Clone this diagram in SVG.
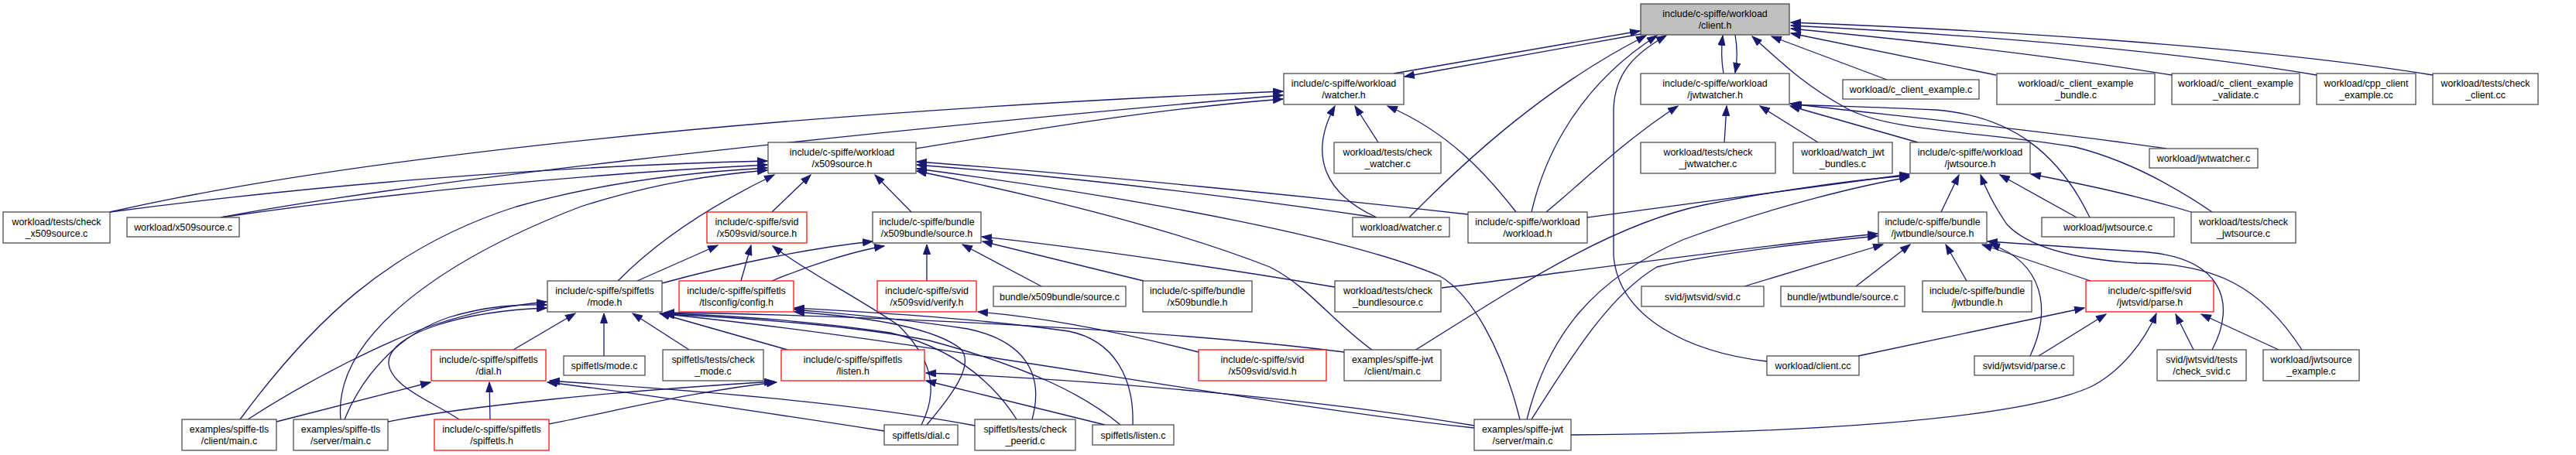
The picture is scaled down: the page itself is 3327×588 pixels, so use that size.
<svg xmlns="http://www.w3.org/2000/svg" width="3327" height="588" viewBox="0 0 3327 588">
<defs>
<marker id="a" markerUnits="userSpaceOnUse" markerWidth="14" markerHeight="10" refX="13" refY="5" orient="auto"><path d="M0.5,0.5 L13,5 L0.5,9.5 z" fill="#191970" stroke="#191970" stroke-width="1"/></marker>
<style>
.n rect{fill:#fff;stroke:#404040;stroke-width:1.2}
.r rect{stroke:#ff0000}
.g rect{fill:#bfbfbf}
text{font-family:"Liberation Sans",Arial,sans-serif;font-size:12.4px;text-anchor:middle;fill:#000}
#edges path{fill:none;stroke:#191970;stroke-width:1.3;marker-end:url(#a)}
</style>
</defs>
<rect width="3327" height="588" fill="#fff"/>
<g id="edges">
<path d="M2437,103 L2288,47"/>
<path d="M2578,97 L2313,43"/>
<path d="M2805,97 C2650,72 2450,50 2313,37"/>
<path d="M2992,97 C2800,65 2550,45 2313,33"/>
<path d="M3142,97 C2900,58 2550,38 2313,29"/>
<path d="M1800,95 L2118,40"/>
<path d="M2119,44 L1814,99"/>
<path d="M2226,95 C2223,78 2223,62 2225,46"/>
<path d="M2241,45 C2244,62 2244,78 2241,94"/>
<path d="M1820,281 C1900,200 2000,110 2126,46"/>
<path d="M1978,274 C1995,200 2040,110 2140,46"/>
<path d="M2282,467 C2180,455 2090,410 2084,330 L2084,140 C2086,95 2110,70 2152,46"/>
<path d="M2857,274 C2800,235 2740,205 2680,190 C2560,170 2440,170 2385,140 C2330,110 2300,80 2263,47"/>
<path d="M1780,184 L1750,137"/>
<path d="M1778,281 C1710,250 1690,200 1724,137"/>
<path d="M1958,274 C1920,225 1870,170 1792,137"/>
<path d="M1183,192 C1350,165 1500,140 1657,128"/>
<path d="M142,274 C400,215 900,150 1657,118"/>
<path d="M285,281 C500,240 1000,180 1657,123"/>
<path d="M142,274 C400,240 700,215 991,208"/>
<path d="M285,281 C500,250 750,225 991,213"/>
<path d="M310,542 C400,420 500,320 667,267 C780,235 900,222 991,217"/>
<path d="M440,542 C430,440 560,340 750,267 C850,235 930,225 991,220"/>
<path d="M798,363 C860,300 940,255 1000,226"/>
<path d="M997,274 L1047,226"/>
<path d="M1177,274 L1130,226"/>
<path d="M1777,281 C1600,255 1400,230 1184,213"/>
<path d="M1896,277 C1700,255 1400,225 1184,209"/>
<path d="M1963,542 C1940,450 1900,380 1860,357 C1750,310 1500,260 1184,218"/>
<path d="M1773,453 C1720,415 1690,370 1640,345 C1500,290 1300,245 1184,221"/>
<path d="M2227,184 L2230,137"/>
<path d="M2348,184 L2273,137"/>
<path d="M2477,184 L2312,137"/>
<path d="M1997,274 C2050,230 2100,180 2167,137"/>
<path d="M2798,192 C2650,170 2450,150 2312,134"/>
<path d="M2699,281 C2660,200 2600,150 2500,142 C2420,138 2360,137 2314,135"/>
<path d="M2507,274 L2530,226"/>
<path d="M2682,281 L2583,226"/>
<path d="M2830,274 C2760,253 2700,240 2623,225"/>
<path d="M2973,452 C2920,370 2860,340 2760,340 C2680,335 2620,320 2592,290 C2575,265 2565,245 2558,226"/>
<path d="M2050,281 C2200,262 2350,240 2466,225"/>
<path d="M1827,453 C1960,370 2080,290 2200,265 C2300,245 2400,232 2466,227"/>
<path d="M1972,542 C2000,430 2060,360 2173,310 C2280,270 2400,240 2466,229"/>
<path d="M2253,370 L2432,316"/>
<path d="M2397,370 L2467,316"/>
<path d="M2540,363 L2513,316"/>
<path d="M2700,363 L2560,316"/>
<path d="M2622,460 C2650,400 2640,340 2570,315"/>
<path d="M2857,452 C2890,390 2870,330 2760,325 C2680,320 2620,316 2567,312"/>
<path d="M1862,372 C2000,355 2250,320 2425,302"/>
<path d="M1978,542 C2030,460 2080,380 2140,345 C2200,330 2320,315 2425,305"/>
<path d="M2400,460 L2692,398"/>
<path d="M2633,460 L2720,406"/>
<path d="M2833,452 L2810,406"/>
<path d="M2943,452 L2843,406"/>
<path d="M2029,562 C2300,560 2600,545 2700,500 C2740,480 2770,440 2785,405"/>
<path d="M1197,363 L1197,316"/>
<path d="M1345,370 L1243,316"/>
<path d="M1477,363 L1269,312"/>
<path d="M1724,371 C1600,350 1400,320 1268,306"/>
<path d="M997,363 C1040,345 1100,325 1142,318"/>
<path d="M855,366 C950,340 1050,320 1127,312"/>
<path d="M663,452 L743,405"/>
<path d="M780,460 L780,405"/>
<path d="M890,452 L817,405"/>
<path d="M1017,452 L852,405"/>
<path d="M320,542 C400,490 500,440 560,420 C620,400 660,395 706,390"/>
<path d="M445,542 C470,480 520,430 580,410 C630,395 670,393 706,394"/>
<path d="M593,542 C560,520 505,500 502,470 C500,430 600,402 706,398"/>
<path d="M1313,542 C1280,490 1230,450 1150,430 C1050,415 950,408 858,405"/>
<path d="M1447,549 C1400,510 1330,475 1200,440 C1100,420 950,410 858,406"/>
<path d="M1904,553 C1600,520 1200,440 858,406"/>
<path d="M1736,455 C1500,425 1100,407 858,404"/>
<path d="M957,363 L970,317"/>
<path d="M1197,549 C1230,510 1260,470 1240,450 C1200,420 1100,408 1026,403"/>
<path d="M1333,542 C1350,480 1320,440 1250,425 C1150,410 1080,405 1026,400"/>
<path d="M1463,549 C1465,490 1440,440 1380,428 C1250,410 1100,402 1026,398"/>
<path d="M823,363 L927,317"/>
<path d="M1190,549 C1215,500 1200,460 1160,420 C1100,380 1040,350 998,318"/>
<path d="M1548,455 C1450,430 1350,410 1263,403"/>
<path d="M357,545 L556,494"/>
<path d="M633,542 L632,494"/>
<path d="M1142,557 C1000,535 800,505 707,494"/>
<path d="M1259,550 C1100,520 900,505 710,492"/>
<path d="M501,545 C600,525 800,505 1000,493"/>
<path d="M709,548 C800,530 900,505 1003,494"/>
<path d="M1427,549 L1196,492"/>
<path d="M1904,550 C1700,515 1400,490 1196,482"/>
</g>
<g id="n0" class="n g"><rect x="2119" y="5" width="192" height="40"/><text x="2215" y="21.5">include/c-spiffe/workload</text><text x="2215" y="36.5">/client.h</text></g>
<g id="n1" class="n"><rect x="1658" y="95" width="155" height="40"/><text x="1735.5" y="111.5">include/c-spiffe/workload</text><text x="1735.5" y="126.5">/watcher.h</text></g>
<g id="n2" class="n"><rect x="2119" y="95" width="192" height="40"/><text x="2215" y="111.5">include/c-spiffe/workload</text><text x="2215" y="126.5">/jwtwatcher.h</text></g>
<g id="n3" class="n"><rect x="2380" y="103" width="176" height="25"/><text x="2468" y="120">workload/c_client_example.c</text></g>
<g id="n4" class="n"><rect x="2579" y="95" width="204" height="40"/><text x="2681" y="111.5">workload/c_client_example</text><text x="2681" y="126.5">_bundle.c</text></g>
<g id="n5" class="n"><rect x="2805" y="95" width="165" height="40"/><text x="2887.5" y="111.5">workload/c_client_example</text><text x="2887.5" y="126.5">_validate.c</text></g>
<g id="n6" class="n"><rect x="2992" y="95" width="128" height="40"/><text x="3056" y="111.5">workload/cpp_client</text><text x="3056" y="126.5">_example.cc</text></g>
<g id="n7" class="n"><rect x="3142" y="95" width="136" height="40"/><text x="3210" y="111.5">workload/tests/check</text><text x="3210" y="126.5">_client.cc</text></g>
<g id="n8" class="n"><rect x="992" y="184" width="191" height="40"/><text x="1087.5" y="200.5">include/c-spiffe/workload</text><text x="1087.5" y="215.5">/x509source.h</text></g>
<g id="n9" class="n"><rect x="1723" y="184" width="138" height="40"/><text x="1792" y="200.5">workload/tests/check</text><text x="1792" y="215.5">_watcher.c</text></g>
<g id="n10" class="n"><rect x="2119" y="184" width="174" height="40"/><text x="2206" y="200.5">workload/tests/check</text><text x="2206" y="215.5">_jwtwatcher.c</text></g>
<g id="n11" class="n"><rect x="2316" y="184" width="128" height="40"/><text x="2380" y="200.5">workload/watch_jwt</text><text x="2380" y="215.5">_bundles.c</text></g>
<g id="n12" class="n"><rect x="2467" y="184" width="155" height="40"/><text x="2544.5" y="200.5">include/c-spiffe/workload</text><text x="2544.5" y="215.5">/jwtsource.h</text></g>
<g id="n13" class="n"><rect x="2776" y="192" width="140" height="25"/><text x="2846" y="209">workload/jwtwatcher.c</text></g>
<g id="n14" class="n"><rect x="4" y="274" width="138" height="40"/><text x="73" y="290.5">workload/tests/check</text><text x="73" y="305.5">_x509source.c</text></g>
<g id="n15" class="n"><rect x="164" y="281" width="145" height="25"/><text x="236.5" y="298">workload/x509source.c</text></g>
<g id="n16" class="n r"><rect x="913" y="274" width="129" height="40"/><text x="977.5" y="290.5">include/c-spiffe/svid</text><text x="977.5" y="305.5">/x509svid/source.h</text></g>
<g id="n17" class="n"><rect x="1127" y="274" width="140" height="40"/><text x="1197" y="290.5">include/c-spiffe/bundle</text><text x="1197" y="305.5">/x509bundle/source.h</text></g>
<g id="n18" class="n"><rect x="1747" y="281" width="125" height="25"/><text x="1809.5" y="298">workload/watcher.c</text></g>
<g id="n19" class="n"><rect x="1896" y="274" width="154" height="40"/><text x="1973" y="290.5">include/c-spiffe/workload</text><text x="1973" y="305.5">/workload.h</text></g>
<g id="n20" class="n"><rect x="2426" y="274" width="140" height="40"/><text x="2496" y="290.5">include/c-spiffe/bundle</text><text x="2496" y="305.5">/jwtbundle/source.h</text></g>
<g id="n21" class="n"><rect x="2637" y="281" width="171" height="25"/><text x="2722.5" y="298">workload/jwtsource.c</text></g>
<g id="n22" class="n"><rect x="2830" y="274" width="135" height="40"/><text x="2897.5" y="290.5">workload/tests/check</text><text x="2897.5" y="305.5">_jwtsource.c</text></g>
<g id="n23" class="n"><rect x="707" y="363" width="148" height="40"/><text x="781" y="379.5">include/c-spiffe/spiffetls</text><text x="781" y="394.5">/mode.h</text></g>
<g id="n24" class="n r"><rect x="877" y="363" width="148" height="40"/><text x="951" y="379.5">include/c-spiffe/spiffetls</text><text x="951" y="394.5">/tlsconfig/config.h</text></g>
<g id="n25" class="n r"><rect x="1133" y="363" width="128" height="40"/><text x="1197" y="379.5">include/c-spiffe/svid</text><text x="1197" y="394.5">/x509svid/verify.h</text></g>
<g id="n26" class="n"><rect x="1283" y="370" width="171" height="26"/><text x="1368.5" y="387.5">bundle/x509bundle/source.c</text></g>
<g id="n27" class="n"><rect x="1476" y="363" width="141" height="40"/><text x="1546.5" y="379.5">include/c-spiffe/bundle</text><text x="1546.5" y="394.5">/x509bundle.h</text></g>
<g id="n28" class="n"><rect x="1724" y="363" width="137" height="40"/><text x="1792.5" y="379.5">workload/tests/check</text><text x="1792.5" y="394.5">_bundlesource.c</text></g>
<g id="n29" class="n"><rect x="2120" y="370" width="158" height="26"/><text x="2199" y="387.5">svid/jwtsvid/svid.c</text></g>
<g id="n30" class="n"><rect x="2300" y="370" width="160" height="26"/><text x="2380" y="387.5">bundle/jwtbundle/source.c</text></g>
<g id="n31" class="n"><rect x="2483" y="363" width="141" height="40"/><text x="2553.5" y="379.5">include/c-spiffe/bundle</text><text x="2553.5" y="394.5">/jwtbundle.h</text></g>
<g id="n32" class="n r"><rect x="2694" y="363" width="165" height="40"/><text x="2776.5" y="379.5">include/c-spiffe/svid</text><text x="2776.5" y="394.5">/jwtsvid/parse.h</text></g>
<g id="n33" class="n r"><rect x="557" y="452" width="148" height="40"/><text x="631" y="468.5">include/c-spiffe/spiffetls</text><text x="631" y="483.5">/dial.h</text></g>
<g id="n34" class="n"><rect x="728" y="460" width="105" height="25"/><text x="780.5" y="477">spiffetls/mode.c</text></g>
<g id="n35" class="n"><rect x="856" y="452" width="130" height="40"/><text x="921" y="468.5">spiffetls/tests/check</text><text x="921" y="483.5">_mode.c</text></g>
<g id="n36" class="n r"><rect x="1009" y="452" width="185" height="40"/><text x="1101.5" y="468.5">include/c-spiffe/spiffetls</text><text x="1101.5" y="483.5">/listen.h</text></g>
<g id="n37" class="n r"><rect x="1548" y="452" width="165" height="40"/><text x="1630.5" y="468.5">include/c-spiffe/svid</text><text x="1630.5" y="483.5">/x509svid/svid.h</text></g>
<g id="n38" class="n"><rect x="1736" y="452" width="125" height="40"/><text x="1798.5" y="468.5">examples/spiffe-jwt</text><text x="1798.5" y="483.5">/client/main.c</text></g>
<g id="n39" class="n"><rect x="2282" y="460" width="119" height="25"/><text x="2341.5" y="477">workload/client.cc</text></g>
<g id="n40" class="n"><rect x="2550" y="460" width="128" height="25"/><text x="2614" y="477">svid/jwtsvid/parse.c</text></g>
<g id="n41" class="n"><rect x="2786" y="452" width="115" height="40"/><text x="2843.5" y="468.5">svid/jwtsvid/tests</text><text x="2843.5" y="483.5">/check_svid.c</text></g>
<g id="n42" class="n"><rect x="2923" y="452" width="124" height="40"/><text x="2985" y="468.5">workload/jwtsource</text><text x="2985" y="483.5">_example.c</text></g>
<g id="n43" class="n"><rect x="235" y="542" width="122" height="40"/><text x="296" y="558.5">examples/spiffe-tls</text><text x="296" y="573.5">/client/main.c</text></g>
<g id="n44" class="n"><rect x="379" y="542" width="122" height="40"/><text x="440" y="558.5">examples/spiffe-tls</text><text x="440" y="573.5">/server/main.c</text></g>
<g id="n45" class="n r"><rect x="561" y="542" width="148" height="40"/><text x="635" y="558.5">include/c-spiffe/spiffetls</text><text x="635" y="573.5">/spiffetls.h</text></g>
<g id="n46" class="n"><rect x="1142" y="549" width="95" height="26"/><text x="1189.5" y="566.5">spiffetls/dial.c</text></g>
<g id="n47" class="n"><rect x="1259" y="542" width="130" height="40"/><text x="1324" y="558.5">spiffetls/tests/check</text><text x="1324" y="573.5">_peerid.c</text></g>
<g id="n48" class="n"><rect x="1411" y="549" width="105" height="26"/><text x="1463.5" y="566.5">spiffetls/listen.c</text></g>
<g id="n49" class="n"><rect x="1904" y="542" width="125" height="40"/><text x="1966.5" y="558.5">examples/spiffe-jwt</text><text x="1966.5" y="573.5">/server/main.c</text></g>
</svg>
